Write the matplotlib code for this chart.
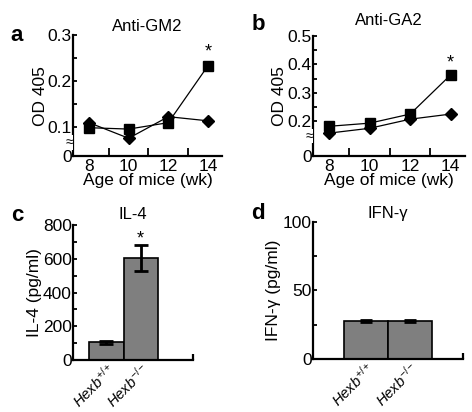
import matplotlib
matplotlib.use("Agg")
import matplotlib.pyplot as plt

plt.rcParams['font.family'] = ['Liberation Sans', 'DejaVu Sans']
plt.rcParams['mathtext.fontset'] = 'custom'
plt.rcParams['mathtext.rm'] = 'Liberation Sans'
plt.rcParams['mathtext.it'] = 'Liberation Sans:italic'

# data
weeks = [8, 10, 12, 14]
gm2_square = [0.098, 0.095, 0.109, 0.233]
gm2_diamond = [0.109, 0.075, 0.122, 0.113]
ga2_square = [0.182, 0.193, 0.225, 0.363]
ga2_diamond = [0.158, 0.175, 0.207, 0.225]

genotypes = [r'$\mathit{Hexb}^{+/+}$', r'$\mathit{Hexb}^{-/-}$']
il4 = [105, 605]
il4_err = [10, 75]
ifng = [27.7, 27.7]
ifng_err = [1.0, 1.0]

fig = plt.figure(figsize=(4.72, 4.12), dpi=100)
ax_a = fig.add_axes([0.155, 0.621, 0.315, 0.294])
ax_b = fig.add_axes([0.663, 0.621, 0.322, 0.292])
ax_c = fig.add_axes([0.155, 0.126, 0.254, 0.328])
ax_d = fig.add_axes([0.663, 0.129, 0.318, 0.332])

fs = 12.5


def style(ax):
    for s in ['top', 'right']:
        ax.spines[s].set_visible(False)
    for s in ['left', 'bottom']:
        ax.spines[s].set_linewidth(1.6)
    ax.tick_params(axis='both', which='both', direction='in', width=1.3, labelsize=fs)
    ax.tick_params(axis='y', which='major', length=3, pad=1)
    ax.tick_params(axis='y', which='minor', length=3)


def line_panel(ax, sq, di, ylo, ybreak, yticks, yminor, star_y, title, tpad):
    style(ax)
    ax.plot(weeks, di, color='black', lw=0.9, marker='D', ms=6.5, zorder=3)
    ax.plot(weeks, sq, color='black', lw=0.9, marker='s', ms=7, zorder=3)
    ax.text(weeks[-1], star_y, '*', ha='center', va='center', fontsize=13)
    ax.set_xlim(7.2, 14.7)
    ax.set_ylim(ylo, yticks[-1])
    ax.set_xticks(weeks)
    ax.set_xticklabels([str(w) for w in weeks])
    ax.set_xticks([9, 11, 13], minor=True)
    ax.tick_params(axis='x', which='major', length=0, pad=2)
    ax.tick_params(axis='x', which='minor', length=6)
    ax.set_yticks([ylo] + yticks)
    ax.set_yticklabels(['0'] + ['%.1f' % t for t in yticks])
    ax.set_yticks(yminor, minor=True)
    ax.set_ylabel('OD 405', fontsize=fs, labelpad=0)
    ax.set_xlabel('Age of mice (wk)', fontsize=fs, labelpad=-1)
    ax.set_title(title, fontsize=12, pad=tpad)
    ax.text(-0.025, ybreak, '\u2248', transform=ax.get_yaxis_transform(),
            ha='center', va='center', fontsize=10,
            bbox=dict(facecolor='white', edgecolor='none', pad=0.1))


line_panel(ax_a, gm2_square, gm2_diamond, 0.036, 0.066, [0.1, 0.2, 0.3],
           [0.15, 0.25], 0.262, 'Anti-GM2', 3)
line_panel(ax_b, ga2_square, ga2_diamond, 0.077, 0.148, [0.2, 0.3, 0.4, 0.5],
           [0.25, 0.35, 0.45], 0.405, 'Anti-GA2', 8)


def bar_panel(ax, vals, errs, xlim, yticks, yminor, ylabel, title, tpad, capsize, star_y=None):
    style(ax)
    x = list(range(len(vals)))
    ax.bar(x, vals, width=1.0, color='#7f7f7f', edgecolor='black', linewidth=1.2, zorder=2)
    ax.errorbar(x, vals, yerr=errs, fmt='none', ecolor='black', elinewidth=2,
                capsize=capsize, capthick=2, zorder=3)
    if star_y is not None:
        ax.text(1, star_y, '*', ha='center', va='center', fontsize=13)
    ax.set_xlim(*xlim)
    ax.set_ylim(0, yticks[-1])
    ax.set_yticks(yticks)
    ax.set_yticks(yminor, minor=True)
    ax.set_xticks(x)
    ax.set_xticklabels(genotypes, rotation=45, ha='right', va='top',
                       rotation_mode='anchor', fontsize=10.5)
    ax.set_xticks([xlim[1]], minor=True)
    ax.tick_params(axis='x', which='major', length=0, pad=0)
    ax.tick_params(axis='x', which='minor', length=4, width=1.6)
    ax.set_ylabel(ylabel, fontsize=fs, labelpad=1)
    ax.set_title(title, fontsize=12, pad=tpad)


bar_panel(ax_c, il4, il4_err, (-0.97, 2.53), [0, 200, 400, 600, 800],
          [100, 300, 500, 700], 'IL-4 (pg/ml)', 'IL-4', 4, 5, star_y=717)
bar_panel(ax_d, ifng, ifng_err, (-1.2, 2.21), [0, 50, 100], [25, 75],
          'IFN-\u03b3 (pg/ml)', 'IFN-\u03b3', 3, 4)

for lbl, (x, y) in zip(['a', 'b', 'c', 'd'],
                       [(0.036, 0.915), (0.547, 0.94), (0.036, 0.478), (0.547, 0.483)]):
    fig.text(x, y, lbl, fontsize=16, fontweight='bold', ha='center', va='center')

fig.savefig('out.png', dpi=100)
